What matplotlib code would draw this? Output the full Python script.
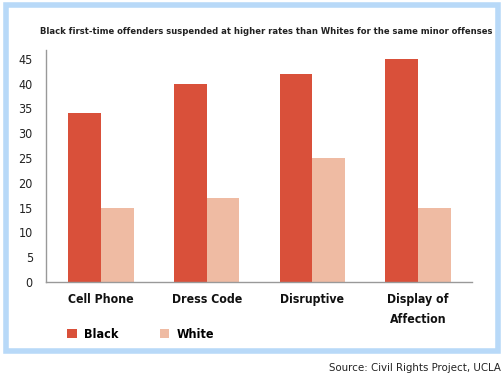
import numpy as np
import matplotlib.pyplot as plt
from matplotlib.patches import Rectangle

categories = ['Cell Phone', 'Dress Code', 'Disruptive', 'Display of\nAffection']
black = [34, 40, 42, 45]
white = [15, 17, 25, 15]
yticks = [0, 5, 10, 15, 20, 25, 30, 35, 40, 45]

plt.rcParams['font.family'] = ['DejaVu Sans']
plt.rcParams['font.stretch'] = 'condensed'

c_black = '#d9503a'
c_white = '#efbba3'

fig = plt.figure(figsize=(5.04, 3.79), dpi=100)
ax = fig.add_axes([46 / 504, 1 - 282 / 379, 426 / 504, 232 / 379])

x = np.arange(len(categories))
w = 0.31
ax.bar(x - w / 2, black, w, color=c_black, label='Black')
ax.bar(x + w / 2, white, w, color=c_white, label='White')

ax.set_xlim(-0.52, 3.51)
ax.set_ylim(0, 46.8)
ax.set_yticks(yticks)
ax.set_xticks(x)
ax.set_xticklabels(categories, fontsize=8.8, fontweight='bold', fontstretch='condensed')
ax.tick_params(axis='both', length=0)
ax.tick_params(axis='y', pad=9.5, labelsize=9, labelcolor='#222222')
ax.tick_params(axis='x', pad=8, labelcolor='#111111')
for lab in ax.get_xticklabels():
    lab.set_linespacing(1.7)
for s in ['top', 'right']:
    ax.spines[s].set_visible(False)
for s in ['left', 'bottom']:
    ax.spines[s].set_color('#999999')
    ax.spines[s].set_linewidth(1.0)

title = fig.text(40 / 504, 1 - 32 / 379,
                 'Black first-time offenders suspended at higher rates than Whites for the same minor offenses',
                 fontsize=9, fontweight='bold', fontstretch='condensed', ha='left', va='center', color='#222222')

# shrink the title until it fits inside the frame
fig.canvas.draw()
r = fig.canvas.get_renderer()
tw = title.get_window_extent(r).width
title.set_fontsize(9 * 452 / tw)

fig.legend(loc='center left', bbox_to_anchor=(56 / 504, 1 - 334 / 379), ncol=2, frameon=False,
           handlelength=0.75, handleheight=0.75, columnspacing=3.3, handletextpad=0.6,
           prop={'weight': 'bold', 'size': 9, 'stretch': 'condensed'})

fig.patches.append(Rectangle((6 / 504, 1 - 351 / 379), 492 / 504, 346 / 379, transform=fig.transFigure,
                             fill=False, edgecolor='#b8d9f8', linewidth=4))

fig.text(501 / 504, 1 - 368 / 379, 'Source: Civil Rights Project, UCLA', fontsize=8.2, ha='right', va='center',
         color='#222222')

fig.savefig('out.png', dpi=100)
